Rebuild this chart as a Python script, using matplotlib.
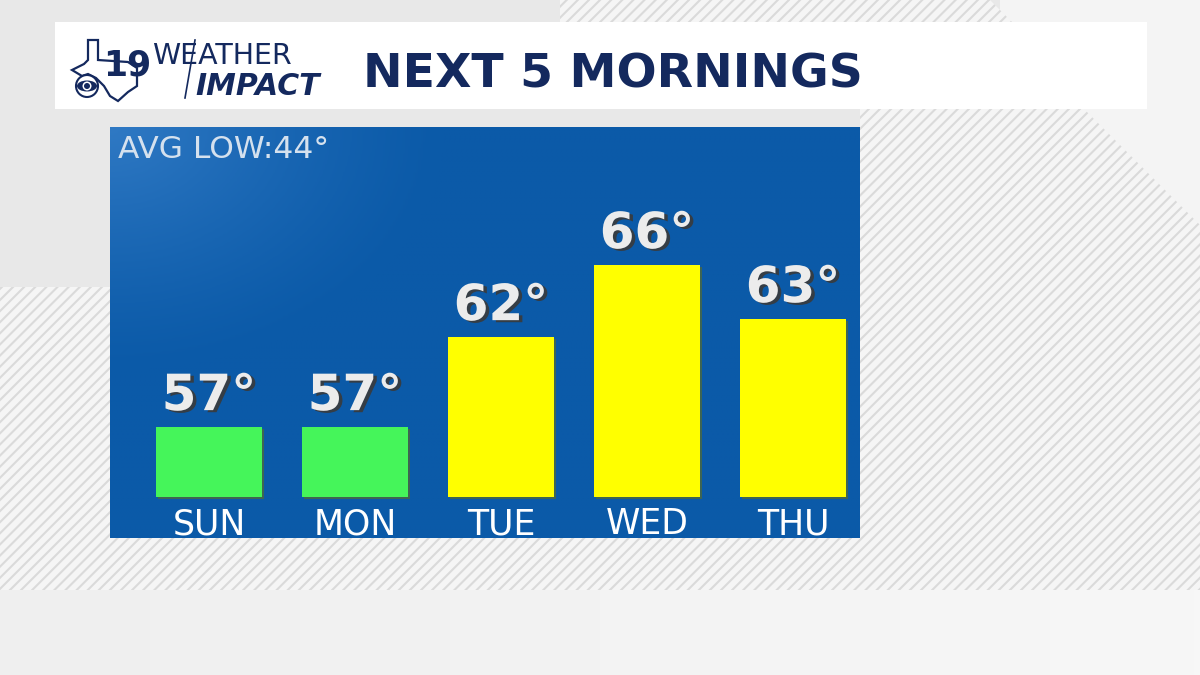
import numpy as np
import matplotlib
matplotlib.use('Agg')
import matplotlib.pyplot as plt
import matplotlib.patheffects as pe
from matplotlib.patches import Polygon, Rectangle, Ellipse, Circle

# data
days = ['SUN', 'MON', 'TUE', 'WED', 'THU']
lows = [57, 57, 62, 66, 63]
bar_colors = ['#45f55a', '#45f55a', '#ffff00', '#ffff00', '#ffff00']
avg_low = 44
title = 'NEXT 5 MORNINGS'

W, H = 1200, 675
BASE = 53.1  # value where bars start
NAVY = '#14295e'

plt.rcParams['hatch.linewidth'] = 1.5
fig = plt.figure(figsize=(12, 6.75), dpi=100)
fig.patch.set_facecolor('#e8e8e8')

# background layer in pixel coords
bg = fig.add_axes([0, 0, 1, 1], zorder=0)
bg.set_xlim(0, W)
bg.set_ylim(H, 0)
bg.axis('off')

bottom = np.linspace(0, 1, 200)[None, :] * np.ones((10, 1))
bg.imshow(bottom, extent=(0, W, H, 590), cmap=matplotlib.colors.LinearSegmentedColormap.from_list('g', ['#efefef', '#f7f7f7']),
          aspect='auto', zorder=0)
bg.add_patch(Polygon([(1000, 0), (W, 0), (W, 590), (1000, 590)], closed=True, fc='#f4f4f4', lw=0, zorder=0.5))

hatch_kw = dict(fc='#f5f5f5', ec='#dadada', lw=0, hatch='///', zorder=1)
bg.add_patch(Rectangle((0, 287), W, 303, **hatch_kw))
bg.add_patch(Polygon([(860, 108), (1083, 108), (W, 225), (W, 590), (860, 590)], closed=True, **hatch_kw))
bg.add_patch(Polygon([(560, 0), (990, 0), (1012, 22), (560, 22)], closed=True, **hatch_kw))

# header bar
bg.add_patch(Rectangle((55, 22), 1092, 87, fc='white', lw=0, zorder=2))
bg.text(363, 87, title, fontsize=34, fontweight='bold', color=NAVY, va='baseline', ha='left', zorder=3)

# logo: rough texas outline, "19", cbs eye, weather impact
texas = [(88, 40), (98, 40), (98, 60), (128, 62), (137, 68), (137, 86), (128, 92), (118, 101),
         (110, 96), (104, 86), (96, 78), (88, 74), (82, 76), (72, 70), (84, 64), (88, 60)]
bg.add_patch(Polygon(texas, closed=True, fc='white', ec=NAVY, lw=1.6, zorder=3))
bg.text(103, 76, '19', fontsize=25, fontweight='bold', color=NAVY, va='baseline', ha='left', zorder=4)
bg.add_patch(Circle((87, 86), 11, fc='white', ec=NAVY, lw=1.5, zorder=4))
bg.add_patch(Ellipse((87, 86), 20, 11, fc=NAVY, lw=0, zorder=5))
bg.add_patch(Circle((87, 86), 4.5, fc='white', lw=0, zorder=6))
bg.add_patch(Circle((87, 86), 3, fc=NAVY, lw=0, zorder=7))
bg.text(152, 64, 'WEATHER', fontsize=20.5, color=NAVY, va='baseline', ha='left', zorder=3)
bg.text(195, 95, 'IMPACT', fontsize=21.5, fontweight='bold', fontstyle='italic', color=NAVY,
        va='baseline', ha='left', zorder=3)
bg.plot([195, 185], [40, 98], color=NAVY, lw=1.2, zorder=4)

# main panel
ax = fig.add_axes([110 / W, (H - 538) / H, 750 / W, 411 / H], zorder=2)
ax.set_xlim(-0.678, 4.459)
ax.set_ylim(50.82, 73.66)
ax.axis('off')

yy, xx = np.mgrid[0:1:200j, 0:1:300j]
glow = np.clip(1 - np.hypot(xx / 0.45, yy / 0.6), 0, 1) ** 1.3
blue = matplotlib.colors.LinearSegmentedColormap.from_list('b', ['#0b5aa8', '#2f79c4'])
ax.imshow(glow, extent=(-0.678, 4.459, 50.82, 73.66), cmap=blue, aspect='auto', zorder=0, origin='upper')

x = np.arange(len(days))
heights = [v - BASE for v in lows]
bars = ax.bar(x, heights, bottom=BASE, width=0.726, color=bar_colors, lw=0, zorder=2)
for b in bars:
    b.set_path_effects([pe.SimplePatchShadow(offset=(1.5, -1.5), shadow_rgbFace='#556b2f', alpha=0.7), pe.Normal()])

shadow = [pe.SimplePatchShadow(offset=(2.5, -1.5), shadow_rgbFace='#3a3a3a', alpha=0.9), pe.Normal()]
for xi, v in zip(x, lows):
    ax.annotate(f'{v}°', (xi, v), xytext=(0, 12), textcoords='offset points', ha='center', va='baseline',
                fontsize=36, fontweight='bold', color='#ececec', zorder=3, path_effects=shadow)

day_tf = matplotlib.transforms.blended_transform_factory(ax.transData, ax.transAxes)
for xi, d in zip(x, days):
    ax.text(xi, 0.009, d, transform=day_tf, ha='center', va='baseline', fontsize=25,
            color='white', zorder=3)

ax.text(0.011, 0.925, f'AVG LOW:{avg_low}°', transform=ax.transAxes, fontsize=22.5,
        color='#d5e1ee', ha='left', va='baseline', zorder=3)

fig.savefig('out.png', dpi=100)
